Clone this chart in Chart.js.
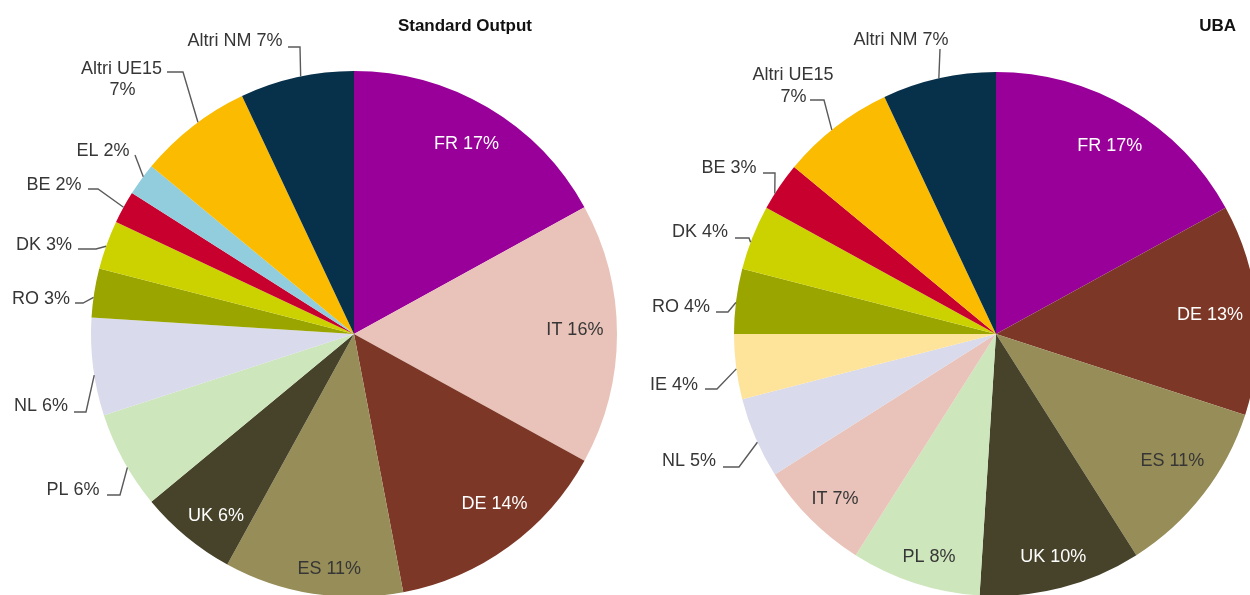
<!DOCTYPE html>
<html>
<head>
<meta charset="utf-8">
<script src="https://cdn.jsdelivr.net/npm/chart.js@4.4.1/dist/chart.umd.min.js"></script>
<style>
  html, body { margin: 0; padding: 0; background: #fff; overflow: hidden; width: 1250px; height: 595px; }
  canvas { position: absolute; left: 0; top: 0; }
</style>
</head>
<body>
<canvas id="chartSO" width="1300" height="700"></canvas>
<canvas id="chartUBA" width="1300" height="700"></canvas>
<script>
// Shares by member state (%)
const soCategories = ['FR', 'IT', 'DE', 'ES', 'UK', 'PL', 'NL', 'RO', 'DK', 'BE', 'EL', 'Altri UE15', 'Altri NM'];
const soValues = [17, 16, 14, 11, 6, 6, 6, 3, 3, 2, 2, 7, 7];

const ubaCategories = ['FR', 'DE', 'ES', 'UK', 'PL', 'IT', 'NL', 'IE', 'RO', 'DK', 'BE', 'Altri UE15', 'Altri NM'];
const ubaValues = [17, 13, 11, 10, 8, 7, 5, 4, 4, 4, 3, 7, 7];

const soTitle = 'Standard Output';
const ubaTitle = 'UBA';

// One colour per country, shared by both pies
const palette = {
  'FR': '#99009a',
  'IT': '#e9c3b9',
  'DE': '#7d3727',
  'ES': '#978d58',
  'UK': '#47432a',
  'PL': '#cde6bc',
  'NL': '#d9daeb',
  'RO': '#9aa500',
  'DK': '#ccd200',
  'BE': '#c8002d',
  'EL': '#92cddd',
  'IE': '#fee39b',
  'Altri UE15': '#fbbb00',
  'Altri NM': '#07304a'
};

const WHITE = '#ffffff';
const DARK = '#363636';
const FONT = '18px "Liberation Sans", Arial, sans-serif';
const TITLE_FONT = 'bold 17px "Liberation Sans", Arial, sans-serif';

// Draws the slice labels: inside ones along the slice bisector,
// outside ones with an elbow leader line from the rim.
const pieLabels = {
  id: 'pieLabels',
  afterDatasetsDraw(chart, args, opts) {
    const ctx = chart.ctx;
    const meta = chart.getDatasetMeta(0);
    const cats = chart.data.labels;
    const vals = chart.data.datasets[0].data;
    const deg = Math.PI / 180;
    ctx.save();
    ctx.font = FONT;
    ctx.textBaseline = 'middle';
    ctx.textAlign = 'center';
    meta.data.forEach((arc, i) => {
      const cat = cats[i];
      const text = cat + ' ' + vals[i] + '%';
      const p = arc.getProps(['x', 'y', 'startAngle', 'endAngle', 'outerRadius'], true);
      const inside = opts.inside[cat];
      if (inside) {
        const a = (p.startAngle + p.endAngle) / 2 + (inside.nudge || 0) * deg;
        const r = p.outerRadius * inside.r;
        ctx.fillStyle = inside.color;
        ctx.fillText(text, p.x + r * Math.cos(a), p.y + r * Math.sin(a));
      }
      const out = opts.outside[cat];
      if (out) {
        let a = (out.angle - 90) * deg;
        a = Math.min(Math.max(a, p.startAngle), p.endAngle);
        ctx.strokeStyle = '#5a5a5a';
        ctx.lineWidth = 1.4;
        ctx.beginPath();
        ctx.moveTo(p.x + p.outerRadius * Math.cos(a), p.y + p.outerRadius * Math.sin(a));
        out.path.forEach(([x, y]) => ctx.lineTo(x, y));
        ctx.stroke();
        ctx.fillStyle = DARK;
        if (out.text.length === 2) {
          ctx.fillText(cat, out.text[0][0], out.text[0][1]);
          ctx.fillText(vals[i] + '%', out.text[1][0], out.text[1][1]);
        } else {
          ctx.fillText(text, out.text[0][0], out.text[0][1]);
        }
      }
    });
    ctx.font = TITLE_FONT;
    ctx.fillStyle = '#111111';
    ctx.textAlign = 'right';
    ctx.fillText(opts.title.text, opts.title.x, opts.title.y);
    ctx.restore();
  }
};

function makePie(canvasId, categories, values, padding, labelOpts) {
  return new Chart(document.getElementById(canvasId), {
    type: 'pie',
    data: {
      labels: categories,
      datasets: [{
        data: values,
        backgroundColor: categories.map(c => palette[c]),
        borderWidth: 0,
        hoverOffset: 0,
        clip: false
      }]
    },
    options: {
      responsive: false,
      animation: false,
      events: [],
      layout: { padding },
      plugins: {
        legend: { display: false },
        tooltip: { enabled: false },
        pieLabels: labelOpts
      }
    },
    plugins: [pieLabels]
  });
}

makePie('chartSO', soCategories, soValues,
  { left: 91, right: 1300 - 617, top: 71, bottom: 700 - 597 },
  {
    title: { text: soTitle, x: 532, y: 26 },
    inside: {
      'FR': { r: 0.84, color: WHITE, nudge: 0 },
      'IT': { r: 0.84, color: DARK, nudge: -1 },
      'DE': { r: 0.84, color: WHITE, nudge: -3.5 },
      'ES': { r: 0.9, color: DARK, nudge: -3 },
      'UK': { r: 0.87, color: WHITE, nudge: -2.5 }
    },
    outside: {
      'PL': { angle: 239.5, path: [[120, 495], [107, 495]], text: [[73, 490]] },
      'NL': { angle: 261, path: [[86, 412], [74, 412]], text: [[41, 406]] },
      'RO': { angle: 278, path: [[83, 303], [75, 303]], text: [[41, 299]] },
      'DK': { angle: 289.5, path: [[96, 249], [78, 249]], text: [[44, 245]] },
      'BE': { angle: 298.8, path: [[98, 189], [88, 189]], text: [[54, 185]] },
      'EL': { angle: 306.75, path: [[135, 155]], text: [[103, 151]] },
      'Altri UE15': { angle: 323.6, path: [[183, 72], [167, 72]], text: [[121.5, 69.5], [122.5, 90]] },
      'Altri NM': { angle: 348.3, path: [[300, 47], [288, 47]], text: [[235, 41.5]] }
    }
  });

makePie('chartUBA', ubaCategories, ubaValues,
  { left: 734, right: 1300 - 1258, top: 72, bottom: 700 - 596 },
  {
    title: { text: ubaTitle, x: 1236, y: 26 },
    inside: {
      'FR': { r: 0.84, color: WHITE, nudge: 0.5 },
      'DE': { r: 0.82, color: WHITE, nudge: 0.3 },
      'ES': { r: 0.83, color: DARK, nudge: -2 },
      'UK': { r: 0.88, color: WHITE, nudge: 0 },
      'PL': { r: 0.89, color: DARK, nudge: -1.3 },
      'IT': { r: 0.88, color: DARK, nudge: -0.7 }
    },
    outside: {
      'NL': { angle: 245.6, path: [[739, 467], [723, 467]], text: [[689, 461]] },
      'IE': { angle: 262.35, path: [[717, 389], [705, 389]], text: [[674, 385]] },
      'RO': { angle: 276.9, path: [[728, 312], [716, 312]], text: [[681, 307]] },
      'DK': { angle: 290.5, path: [[749, 238], [735, 238]], text: [[700, 232]] },
      'BE': { angle: 302.4, path: [[775, 173], [763, 173]], text: [[729, 168.5]] },
      'Altri UE15': { angle: 321.2, path: [[824, 100], [810, 100]], text: [[793, 75], [793.5, 97]] },
      'Altri NM': { angle: 347.4, path: [[940, 49]], text: [[901, 40]] }
    }
  });
</script>
</body>
</html>
